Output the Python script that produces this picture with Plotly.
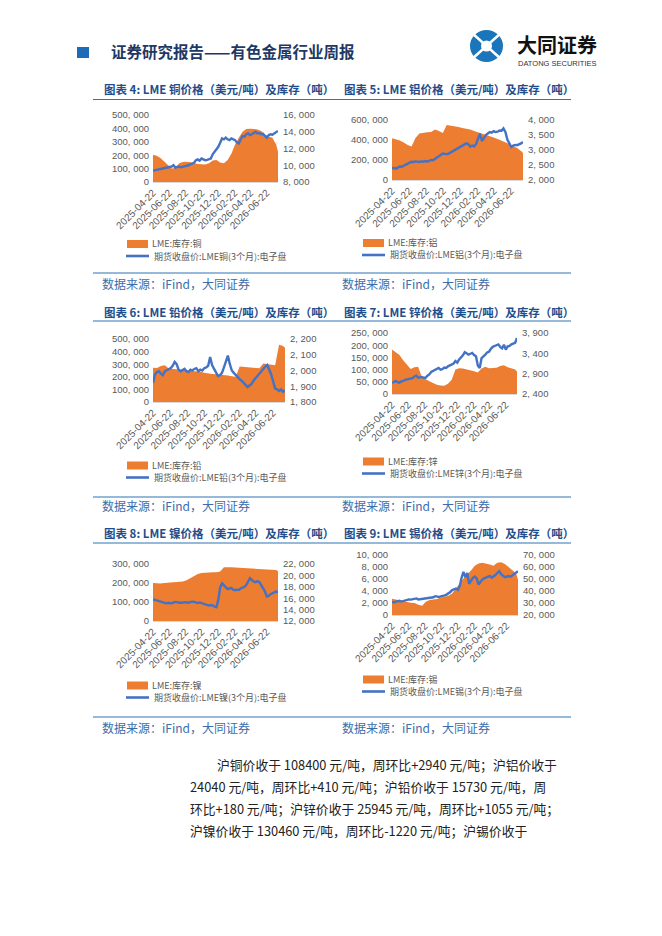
import plotly.graph_objects as go
import pandas as pd

W, H = 662, 936

# ---------------- data ----------------
DATES = pd.date_range("2025-04-22", periods=68, freq="7D")
INV_DATES = list(DATES[::2]) + [DATES[-1]]
TICK_DATES = ["2025-04-22", "2025-06-22", "2025-08-22", "2025-10-22",
              "2025-12-22", "2026-02-22", "2026-04-22", "2026-06-22"]

# copper
CU_INV = [203000, 195000, 180000, 155000, 125000, 100000, 105000, 140000, 150000, 152000,
          148000, 140000, 135000, 132000, 130000, 140000, 160000, 165000, 145000, 140000,
          165000, 210000, 280000, 330000, 375000, 395000, 398000, 395000, 392000, 380000,
          355000, 340000, 330000, 280000, 228000]
CU_PX = [9350, 9400, 9480, 9550, 9600, 9650, 9620, 9700, 9750, 9800,
         9850, 10000, 9700, 9800, 9850, 9750, 9800, 9850, 9900, 10000,
         10100, 10250, 10300, 10600, 10700, 10550, 10800, 10700, 10600, 10650,
         10700, 10800, 11300, 11600, 11800, 12200, 12700, 13200, 13100, 13300,
         13100, 13000, 13200, 13100, 13000, 12700, 12600, 13100, 13500, 13400,
         13700, 13800, 13600, 13700, 13900, 14000, 13800, 13850, 13700, 13750,
         13500, 13300, 13600, 13700, 13650, 13800, 13900, 14100]
CU_LEFT = [0, 100000, 200000, 300000, 400000, 500000]
CU_RIGHT = [8000, 10000, 12000, 14000, 16000]

# aluminium
AL_INV = [418000, 410000, 395000, 375000, 350000, 335000, 420000, 465000, 475000, 478000,
          480000, 505000, 490000, 470000, 550000, 545000, 540000, 530000, 520000, 515000,
          505000, 490000, 478000, 462000, 450000, 440000, 425000, 410000, 395000, 380000,
          360000, 340000, 320000, 290000, 270000]
AL_PX = [2390, 2400, 2380, 2420, 2450, 2440, 2480, 2510, 2550, 2580,
         2610, 2600, 2620, 2610, 2600, 2620, 2610, 2630, 2620, 2640,
         2670, 2660, 2720, 2750, 2790, 2830, 2880, 2870, 2860, 2880,
         2920, 2950, 3000, 3020, 3080, 3100, 3150, 3180, 3220, 3200,
         3110, 3150, 3120, 3200, 3400, 3540, 3300, 3400, 3500, 3550,
         3600, 3580, 3630, 3600, 3610, 3650, 3640, 3720, 3600, 3350,
         3200, 3100, 3150, 3170, 3160, 3180, 3220, 3270]
AL_LEFT = [0, 200000, 400000, 600000]
AL_RIGHT = [2000, 2500, 3000, 3500, 4000]

# lead
PB_INV = [272000, 270000, 285000, 292000, 265000, 262000, 262000, 258000, 255000, 255000,
          250000, 245000, 240000, 232000, 225000, 222000, 220000, 218000, 215000, 210000,
          205000, 200000, 282000, 280000, 278000, 275000, 270000, 268000, 305000, 300000,
          295000, 292000, 455000, 445000, 430000]
PB_PX = [1920, 1975, 1990, 1995, 1980, 1970, 1995, 2000, 2005, 2015,
         2030, 2055, 2040, 2005, 1995, 2000, 2010, 1995, 1990, 2005,
         2000, 2010, 2015, 1995, 2005, 2000, 2015, 2020, 2030, 2085,
         2035, 2010, 1990, 1965, 1970, 1985, 2020, 2060, 2095, 2040,
         2000, 1985, 1970, 1960, 1945, 1935, 1920, 1905, 1895, 1905,
         1915, 1935, 1950, 1970, 1985, 1995, 2010, 2025, 2035, 2005,
         1975, 1930, 1885, 1880, 1870, 1880, 1865, 1875]
PB_LEFT = [0, 100000, 200000, 300000, 400000, 500000]
PB_RIGHT = [1800, 1900, 2000, 2100, 2200]

# zinc
ZN_INV = [182000, 172000, 160000, 138000, 120000, 102000, 110000, 112000, 70000, 60000,
          52000, 45000, 38000, 35000, 34000, 42000, 58000, 100000, 106000, 105000,
          102000, 98000, 93000, 88000, 105000, 112000, 106000, 107000, 108000, 115000,
          118000, 110000, 105000, 100000, 92000]
ZN_PX = [2670, 2700, 2720, 2690, 2680, 2710, 2720, 2750, 2760, 2770,
         2790, 2790, 2830, 2850, 2800, 2810, 2820, 2800, 2800, 2850,
         2880, 2940, 2970, 3000, 3020, 3040, 3000, 3010, 3050, 3040,
         3080, 3100, 3120, 3150, 3210, 3170, 3250, 3290, 3350, 3430,
         3400, 3370, 3390, 3410, 3360, 3330, 3100, 3040, 3280, 3340,
         3370, 3420, 3440, 3510, 3560, 3580, 3600, 3620, 3560, 3520,
         3610, 3490, 3570, 3580, 3620, 3640, 3660, 3780]
ZN_LEFT = [0, 50000, 100000, 150000, 200000, 250000]
ZN_RIGHT = [2400, 2900, 3400, 3900]

# nickel
NI_INV = [200000, 198000, 198000, 200000, 201000, 202000, 204000, 205000, 208000, 215000,
          225000, 238000, 248000, 253000, 255000, 256000, 256000, 257000, 260000, 283000,
          284000, 283000, 282000, 281000, 280000, 279000, 278000, 277000, 276000, 275000,
          274000, 273000, 272000, 268000, 262000]
NI_PX = [15700, 15750, 15600, 15500, 15350, 15250, 15150, 15100, 15200, 15150,
         15100, 15250, 15350, 15300, 15200, 15250, 15200, 15300, 15250, 15200,
         15300, 15400, 15350, 15300, 15150, 15250, 15150, 14950, 14850, 14750,
         14700, 14800, 14750, 14500, 14400, 15700, 17900, 18600, 18300, 17900,
         17600, 17700, 17800, 17500, 17400, 17500, 17450, 17700, 17800, 18000,
         18300, 18900, 19500, 19200, 18900, 18800, 19000, 18800, 18300, 17700,
         17200, 16300, 16400, 16700, 16900, 17100, 17200, 17000]
NI_LEFT = [0, 100000, 200000, 300000]
NI_RIGHT = [12000, 14000, 16000, 18000, 20000, 22000]

# tin
SN_INV = [2700, 2550, 2450, 2300, 2100, 2050, 2000, 1700, 1550, 2200,
          2500, 2550, 2650, 2900, 3000, 3200, 3600, 4500, 5200, 6100,
          6800, 7400, 8200, 8600, 8700, 8600, 8400, 8200, 8700, 8800,
          8500, 8000, 7400, 6900, 5900]
SN_PX = [31000, 30500, 31200, 31500, 31800, 31200, 31600, 32400, 32600, 33000,
         32800, 33100, 33600, 33800, 33000, 33200, 33400, 33700, 34200, 33800,
         34000, 34500, 34800, 35700, 35300, 35000, 35600, 35800, 36400, 37000,
         38000, 39200, 40800, 41500, 42000, 41000, 44000, 51000, 56000, 51500,
         55000, 46000, 49000, 51000, 52000, 50500, 45500, 48000, 49500, 50500,
         51000, 52000, 52500, 51000, 52000, 53300, 55000, 56500, 54000, 52500,
         51500, 52000, 52500, 52000, 53000, 54000, 55000, 56500]
SN_LEFT = [0, 2000, 4000, 6000, 8000, 10000]
SN_RIGHT = [20000, 30000, 40000, 50000, 60000, 70000]

METALS = ["铜", "铝", "铅", "锌", "镍", "锡"]
FIG_NUMS = [4, 5, 6, 7, 8, 9]
SOURCE = "数据来源：iFind，大同证券"
HEADER = "证券研究报告——有色金属行业周报"
BODY = ["沪铜价收于 108400 元/吨，周环比+2940 元/吨；沪铝价收于",
        "24040 元/吨，周环比+410 元/吨；沪铅价收于 15730 元/吨，周",
        "环比+180 元/吨；沪锌价收于 25945 元/吨，周环比+1055 元/吨；",
        "沪镍价收于 130460 元/吨，周环比-1220 元/吨；沪锡价收于"]

# ---------------- styles / layout ----------------
ORANGE = "#ED7D31"
BLUE = "#4472C4"
GRAY = "#595959"
TITLE_BLUE = "#1F4E8C"
LINE_BLUE = "#2E75B6"
SRC_BLUE = "#3C6DAA"
CJK = "Noto Sans CJK SC"
NUM = "Liberation Sans"

SERIES = [(CU_INV, CU_PX, CU_LEFT, CU_RIGHT), (AL_INV, AL_PX, AL_LEFT, AL_RIGHT),
          (PB_INV, PB_PX, PB_LEFT, PB_RIGHT), (ZN_INV, ZN_PX, ZN_LEFT, ZN_RIGHT),
          (NI_INV, NI_PX, NI_LEFT, NI_RIGHT), (SN_INV, SN_PX, SN_LEFT, SN_RIGHT)]
# plot boxes in page pixels: x0, x1, y0(top), y1(bottom)
BOXES = [(153, 278, 115, 182), (392, 523, 120, 180),
         (153, 285, 339, 402), (392, 517, 333, 394),
         (153, 278, 564, 621), (392, 518, 555, 615)]
TITLE_POS = [(102, 89), (342, 89), (102, 312), (342, 312), (102, 533), (342, 533)]
LEGEND_POS = [(127, 244, 256), (363, 243, 255), (127, 465.5, 477.5),
              (363, 461.5, 473.5), (127, 685.5, 697.5), (363, 679.5, 691.5)]
ROW_TITLE_LINE = [99.5, 321, 543]
ROW_SRC_LINE = [273, 497, 717]
ROW_SRC_TEXT = [283, 506, 727]


def PX(v):
    return v / W


def PY(v):
    return 1 - v / H


def fmt(v):
    return f"{v:,}".replace(",", ", ")


fig = go.Figure()
layout = dict(width=W, height=H, template="none",
              margin=dict(l=0, r=0, t=0, b=0, pad=0, autoexpand=False),
              paper_bgcolor="white", plot_bgcolor="rgba(0,0,0,0)",
              showlegend=False, font=dict(family=CJK, color=GRAY))
shapes, annots = [], []

for k in range(1, 7):
    inv, prc, lt, rt = SERIES[k - 1]
    x0, x1, y0, y1 = BOXES[k - 1]
    xa = "x" if k == 1 else f"x{k}"
    nl, nr = 2 * k - 1, 2 * k
    yl = "y" if nl == 1 else f"y{nl}"
    yr = f"y{nr}"
    fig.add_trace(go.Scatter(x=INV_DATES, y=inv, xaxis=xa, yaxis=yl, mode="lines",
                             fill="tozeroy", fillcolor=ORANGE,
                             line=dict(width=0, color=ORANGE), hoverinfo="skip"))
    fig.add_trace(go.Scatter(x=DATES, y=prc, xaxis=xa, yaxis=yr, mode="lines",
                             line=dict(width=2.4, color=BLUE)))
    layout["xaxis" if k == 1 else f"xaxis{k}"] = dict(
        domain=[PX(x0), PX(x1)], anchor=yl, type="date", automargin=False,
        range=["2025-04-22", DATES[-1].strftime("%Y-%m-%d")],
        tickvals=TICK_DATES, ticktext=TICK_DATES, tickangle=-45,
        tickfont=dict(size=10, color=GRAY, family=NUM),
        showgrid=False, zeroline=False, showline=True, linecolor="#D9D9D9",
        linewidth=1, ticks="", fixedrange=True)
    layout["yaxis" if nl == 1 else f"yaxis{nl}"] = dict(
        domain=[PY(y1), PY(y0)], anchor=xa, range=[lt[0], lt[-1]], automargin=False,
        tickvals=lt, ticktext=[fmt(v) for v in lt],
        tickfont=dict(size=9.5, color=GRAY, family=NUM), showgrid=False,
        zeroline=False, showline=False, ticks="", ticklabelstandoff=3, fixedrange=True)
    layout[f"yaxis{nr}"] = dict(
        overlaying=yl, side="right", anchor=xa, range=[rt[0], rt[-1]], automargin=False,
        tickvals=rt, ticktext=[fmt(v) for v in rt],
        tickfont=dict(size=9.5, color=GRAY, family=NUM), showgrid=False,
        zeroline=False, showline=False, ticks="", ticklabelstandoff=4, fixedrange=True)

    metal = METALS[k - 1]
    tx, ty = TITLE_POS[k - 1]
    annots.append(dict(x=PX(tx), y=PY(ty), xref="paper", yref="paper",
                       xanchor="left", yanchor="middle", showarrow=False,
                       text=f"<b>图表 {FIG_NUMS[k - 1]}: LME {metal}价格（美元/吨）及库存（吨）</b>",
                       font=dict(size=11.5, color=TITLE_BLUE, family=CJK)))
    lx, ly1, ly2 = LEGEND_POS[k - 1]
    shapes.append(dict(type="rect", xref="paper", yref="paper",
                       x0=PX(lx), x1=PX(lx + 21), y0=PY(ly1 + 4), y1=PY(ly1 - 4),
                       fillcolor=ORANGE, line=dict(width=0)))
    shapes.append(dict(type="line", xref="paper", yref="paper",
                       x0=PX(lx - 1), x1=PX(lx + 22), y0=PY(ly2), y1=PY(ly2),
                       line=dict(color=BLUE, width=2.6)))
    annots.append(dict(x=PX(lx + 23), y=PY(ly1), xref="paper", yref="paper",
                       xanchor="left", yanchor="middle", showarrow=False,
                       text=f"LME:库存:{metal}", font=dict(size=9, color=GRAY, family=CJK)))
    annots.append(dict(x=PX(lx + 25), y=PY(ly2), xref="paper", yref="paper",
                       xanchor="left", yanchor="middle", showarrow=False,
                       text=f"期货收盘价:LME{metal}(3个月):电子盘",
                       font=dict(size=9, color=GRAY, family=CJK)))

# row separator lines and source notes
for r in range(3):
    for yy in (ROW_TITLE_LINE[r], ROW_SRC_LINE[r]):
        shapes.append(dict(type="line", xref="paper", yref="paper",
                           x0=PX(93), x1=PX(571), y0=PY(yy), y1=PY(yy),
                           line=dict(color=LINE_BLUE, width=1.2)))
    for sx in (100, 340):
        annots.append(dict(x=PX(sx), y=PY(ROW_SRC_TEXT[r]), xref="paper", yref="paper",
                           xanchor="left", yanchor="middle", showarrow=False,
                           text=SOURCE, font=dict(size=12, color=SRC_BLUE, family=CJK)))

# header
shapes.append(dict(type="rect", xref="paper", yref="paper",
                   x0=PX(77), x1=PX(89), y0=PY(58), y1=PY(47),
                   fillcolor="#1E6BB8", line=dict(width=0)))
annots.append(dict(x=PX(109), y=PY(51), xref="paper", yref="paper",
                   xanchor="left", yanchor="middle", showarrow=False,
                   text=f"<b>{HEADER}</b>", font=dict(size=15.5, color="#1F3864", family=CJK)))
# logo emblem (approximation)
LOGO = "#1A75BB"
shapes.append(dict(type="circle", xref="paper", yref="paper",
                   x0=PX(470), x1=PX(503), y0=PY(62), y1=PY(30),
                   fillcolor=LOGO, line=dict(width=0)))
for (ax, ay, bx, by) in [(472, 33, 501, 59), (501, 33, 472, 59)]:
    shapes.append(dict(type="line", xref="paper", yref="paper",
                       x0=PX(ax), x1=PX(bx), y0=PY(ay), y1=PY(by),
                       line=dict(color="white", width=2.5)))
shapes.append(dict(type="circle", xref="paper", yref="paper",
                   x0=PX(481), x1=PX(492), y0=PY(51.5), y1=PY(40.5),
                   fillcolor="white", line=dict(width=0)))
annots.append(dict(x=PX(515), y=PY(44), xref="paper", yref="paper",
                   xanchor="left", yanchor="middle", showarrow=False,
                   text="<b>大同证券</b>", font=dict(size=20, color="#111111", family=CJK)))
annots.append(dict(x=PX(516), y=PY(63.5), xref="paper", yref="paper",
                   xanchor="left", yanchor="middle", showarrow=False,
                   text="DATONG SECURITIES", font=dict(size=7.5, color="#333333", family=NUM)))

# body paragraph
BODY_POS = [(215, 764), (188, 786), (188, 808), (188, 830)]
for txt, (bx, by) in zip(BODY, BODY_POS):
    annots.append(dict(x=PX(bx), y=PY(by), xref="paper", yref="paper",
                       xanchor="left", yanchor="middle", showarrow=False,
                       text=txt, font=dict(size=12.8, color="#222222", family=CJK)))

layout["shapes"] = shapes
layout["annotations"] = annots
fig.update_layout(**layout)
fig.write_html("out.html", config={"displayModeBar": False, "staticPlot": True},
               post_script="document.body.style.margin='0';document.body.style.padding='0';")
